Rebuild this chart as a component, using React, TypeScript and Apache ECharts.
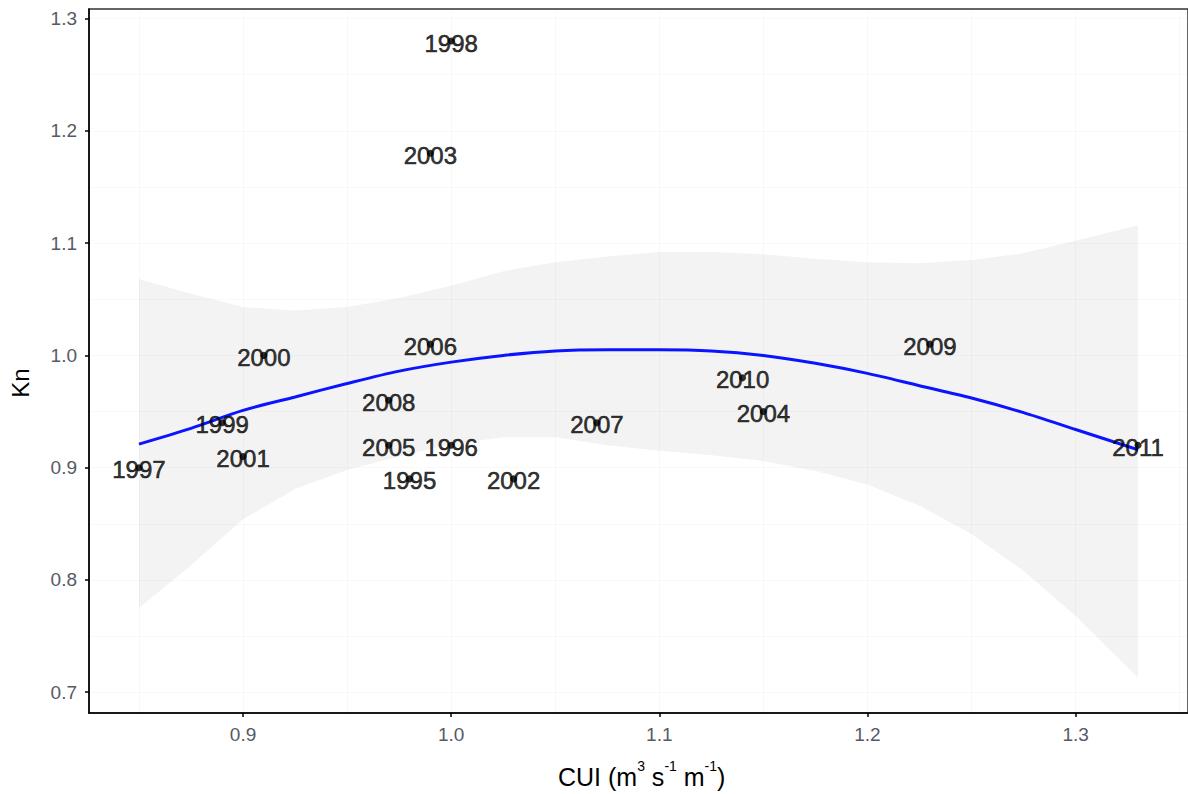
import React, { useEffect, useRef } from "react";
import * as echarts from "echarts";

const years = ["1995", "1996", "1997", "1998", "1999", "2000", "2001", "2002", "2003", "2004", "2005", "2006", "2007", "2008", "2009", "2010", "2011"];
const cui = [0.98, 1.0, 0.85, 1.0, 0.89, 0.91, 0.9, 1.03, 0.99, 1.15, 0.97, 0.99, 1.07, 0.97, 1.23, 1.14, 1.33];
const kn = [0.89, 0.92, 0.9, 1.28, 0.94, 1.0, 0.91, 0.89, 1.18, 0.95, 0.92, 1.01, 0.94, 0.96, 1.01, 0.98, 0.92];

const fitX = [0.85, 0.875, 0.9, 0.925, 0.95, 0.975, 1.0, 1.025, 1.05, 1.075, 1.1, 1.125, 1.15, 1.175, 1.2, 1.225, 1.25, 1.275, 1.3, 1.33];
const fitY = [0.921, 0.935, 0.951, 0.963, 0.975, 0.986, 0.994, 1.0, 1.004, 1.005, 1.005, 1.004, 1.0, 0.993, 0.984, 0.973, 0.962, 0.949, 0.934, 0.916];
const bandUpper = [1.068, 1.055, 1.043, 1.04, 1.043, 1.051, 1.062, 1.075, 1.083, 1.088, 1.092, 1.092, 1.09, 1.086, 1.083, 1.082, 1.085, 1.091, 1.102, 1.116];
const bandLower = [0.775, 0.813, 0.854, 0.881, 0.898, 0.91, 0.921, 0.927, 0.927, 0.92, 0.915, 0.911, 0.906, 0.897, 0.885, 0.866, 0.841, 0.808, 0.768, 0.713];

const xTicks = [0.9, 1.0, 1.1, 1.2, 1.3];
const yTicks = [0.7, 0.8, 0.9, 1.0, 1.1, 1.2, 1.3];
const xGrid = [0.85, 0.9, 0.95, 1.0, 1.05, 1.1, 1.15, 1.2, 1.25, 1.3, 1.35];
const yGrid = [0.7, 0.75, 0.8, 0.85, 0.9, 0.95, 1.0, 1.05, 1.1, 1.15, 1.2, 1.25, 1.3];

const FONT = "'Liberation Sans', Arial, Helvetica, sans-serif";

export default function App() {
  const ref = useRef<HTMLDivElement>(null);
  useEffect(() => {
    if (!ref.current) return;
    const chart = echarts.init(ref.current, undefined, { renderer: "svg" });
    const gridMarks = [
      ...xGrid.map((v) => ({ xAxis: v })),
      ...yGrid.map((v) => ({ yAxis: v })),
    ];
    const option: any = {
      animation: false,
      backgroundColor: "#ffffff",
      textStyle: { fontFamily: FONT },
      grid: {
        left: 89,
        top: 9,
        right: -4,
        bottom: 81,
        show: true,
        borderColor: "#333333",
        borderWidth: 1.5,
        backgroundColor: "transparent",
      },
      xAxis: {
        type: "value",
        min: 0.826,
        max: 1.354,
        axisLine: { show: true, lineStyle: { color: "#000", width: 1.5 } },
        axisTick: { show: true, customValues: xTicks, length: 4, lineStyle: { color: "#000", width: 1.5 } },
        axisLabel: {
          customValues: xTicks,
          formatter: (v: number) => v.toFixed(1),
          color: "#555a66",
          fontSize: 19,
          margin: 12,
          fontFamily: FONT,
        },
        splitLine: { show: false },
      },
      yAxis: {
        type: "value",
        min: 0.6815,
        max: 1.3085,
        axisLine: { show: true, lineStyle: { color: "#000", width: 1.5 } },
        axisTick: { show: true, customValues: yTicks, length: 4, lineStyle: { color: "#000", width: 1.5 } },
        axisLabel: {
          customValues: yTicks,
          formatter: (v: number) => v.toFixed(1),
          color: "#555a66",
          fontSize: 19,
          margin: 12,
          fontFamily: FONT,
        },
        splitLine: { show: false },
      },
      series: [
        {
          type: "custom",
          z: 1,
          silent: true,
          data: [[fitX[0], fitY[0]]],
          renderItem: (params: any, api: any) => {
            const pts: number[][] = [];
            for (let i = 0; i < fitX.length; i++) pts.push(api.coord([fitX[i], bandUpper[i]]));
            for (let i = fitX.length - 1; i >= 0; i--) pts.push(api.coord([fitX[i], bandLower[i]]));
            return {
              type: "polygon",
              shape: { points: pts },
              style: { fill: "#f3f3f3", stroke: "none" },
            };
          },
        },
        {
          type: "line",
          z: 2,
          silent: true,
          data: [],
          markLine: {
            silent: true,
            symbol: ["none", "none"],
            label: { show: false },
            lineStyle: { color: "rgba(0,0,0,0.025)", type: "solid", width: 1.2 },
            data: gridMarks,
          },
        },
        {
          type: "line",
          z: 3,
          data: fitX.map((x, i) => [x, fitY[i]]),
          smooth: 0.3,
          showSymbol: false,
          lineStyle: { color: "#0a14ff", width: 3 },
        },
        {
          type: "scatter",
          z: 4,
          data: cui.map((x, i) => [x, kn[i]]),
          symbolSize: 7,
          itemStyle: { color: "#000" },
          label: {
            show: true,
            position: "inside",
            formatter: (p: any) => years[p.dataIndex],
            color: "#000",
            textBorderColor: "#000",
            textBorderWidth: 0.6,
            fontSize: 24,
            fontFamily: FONT,
            offset: [0, 2],
          },
        },
      ],
      graphic: [
        {
          type: "text",
          left: 558,
          top: 759,
          style: {
            text: "{a|CUI (m}{s|3}{a| s}{s|-1}{a| m}{s|-1}{a|)}",
            rich: {
              a: { fontSize: 25, fontFamily: FONT, fill: "#000", lineHeight: 30, verticalAlign: "bottom" },
              s: { fontSize: 14, fontFamily: FONT, fill: "#000", lineHeight: 30, verticalAlign: "top" },
            },
          },
        },
        {
          type: "text",
          x: 20,
          y: 383,
          rotation: Math.PI / 2,
          style: {
            text: "Kn",
            fontSize: 24,
            fontFamily: FONT,
            fill: "#000",
            align: "center",
            verticalAlign: "middle",
          },
        },
      ],
    };
    chart.setOption(option);
    return () => chart.dispose();
  }, []);
  return <div ref={ref} style={{ position: "fixed", left: 0, top: 0, width: 1188, height: 794 }} />;
}
